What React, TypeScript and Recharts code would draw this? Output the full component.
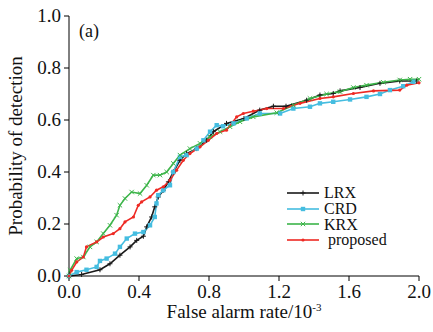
import { LineChart, Line, XAxis, YAxis } from 'recharts';

// False alarm rate (x1e-3) and probability of detection for each detector
const lrxFar = [0, 0.072, 0.177, 0.234, 0.291, 0.349, 0.387, 0.425, 0.444, 0.472, 0.49, 0.51, 0.539, 0.568, 0.596, 0.634, 0.672, 0.73, 0.787, 0.825, 0.9, 1.0, 1.09, 1.168, 1.24, 1.358, 1.434, 1.51, 1.549, 1.663, 1.777, 1.89, 1.987];
const lrxPd = [0, 0.006, 0.024, 0.047, 0.08, 0.112, 0.137, 0.153, 0.189, 0.227, 0.266, 0.304, 0.33, 0.362, 0.4, 0.445, 0.471, 0.49, 0.522, 0.555, 0.587, 0.606, 0.638, 0.653, 0.653, 0.676, 0.696, 0.702, 0.712, 0.725, 0.741, 0.75, 0.75];

const crdFar = [0, 0.044, 0.1, 0.158, 0.177, 0.215, 0.263, 0.291, 0.33, 0.377, 0.425, 0.463, 0.49, 0.5, 0.51, 0.539, 0.577, 0.596, 0.634, 0.672, 0.73, 0.768, 0.806, 0.844, 0.88, 0.94, 1.015, 1.09, 1.206, 1.282, 1.377, 1.434, 1.51, 1.606, 1.7, 1.777, 1.834, 1.91, 1.968];
const crdPd = [0, 0.015, 0.024, 0.035, 0.058, 0.067, 0.086, 0.112, 0.144, 0.163, 0.169, 0.195, 0.227, 0.279, 0.311, 0.33, 0.349, 0.4, 0.458, 0.465, 0.49, 0.522, 0.555, 0.58, 0.576, 0.587, 0.606, 0.625, 0.625, 0.644, 0.651, 0.664, 0.67, 0.679, 0.689, 0.7, 0.715, 0.73, 0.747];

const krxFar = [0, 0.006, 0.044, 0.082, 0.12, 0.158, 0.196, 0.234, 0.272, 0.291, 0.32, 0.358, 0.406, 0.444, 0.482, 0.52, 0.558, 0.596, 0.634, 0.691, 0.749, 0.806, 0.863, 0.92, 0.977, 1.053, 1.187, 1.282, 1.377, 1.472, 1.549, 1.625, 1.7, 1.796, 1.89, 1.949, 2.0];
const krxPd = [0, 0.022, 0.067, 0.073, 0.112, 0.131, 0.163, 0.195, 0.234, 0.272, 0.298, 0.323, 0.317, 0.349, 0.388, 0.388, 0.4, 0.433, 0.465, 0.49, 0.51, 0.535, 0.555, 0.574, 0.593, 0.612, 0.628, 0.657, 0.683, 0.7, 0.709, 0.725, 0.734, 0.745, 0.754, 0.757, 0.757];

const propFar = [0, 0.015, 0.044, 0.082, 0.1, 0.158, 0.196, 0.253, 0.291, 0.32, 0.368, 0.396, 0.415, 0.463, 0.5, 0.539, 0.577, 0.615, 0.653, 0.691, 0.749, 0.796, 0.844, 0.9, 0.958, 0.996, 1.053, 1.13, 1.225, 1.32, 1.434, 1.51, 1.625, 1.74, 1.89, 1.93, 2.0];
const propPd = [0, 0.022, 0.054, 0.073, 0.112, 0.131, 0.15, 0.163, 0.182, 0.208, 0.227, 0.272, 0.285, 0.304, 0.33, 0.343, 0.368, 0.407, 0.445, 0.471, 0.497, 0.522, 0.548, 0.561, 0.612, 0.625, 0.634, 0.644, 0.644, 0.664, 0.683, 0.689, 0.702, 0.712, 0.715, 0.734, 0.743];

const xTicks = [0, 0.4, 0.8, 1.2, 1.6, 2.0];
const yTicks = [0, 0.2, 0.4, 0.6, 0.8, 1.0];

const FONT = '"Liberation Serif", "Times New Roman", serif';

const toPoints = (xs: number[], ys: number[]) => xs.map((x, i) => ({ x, y: ys[i] }));

const series = [
  { name: 'LRX', color: '#1a1a1a', marker: 'plus', data: toPoints(lrxFar, lrxPd) },
  { name: 'CRD', color: '#45bde0', marker: 'square', data: toPoints(crdFar, crdPd) },
  { name: 'KRX', color: '#3db54a', marker: 'cross', data: toPoints(krxFar, krxPd) },
  { name: ' proposed', color: '#ee2a24', marker: 'dot', data: toPoints(propFar, propPd) },
];

function Marker({ kind, cx, cy, color }: { kind: string; cx: number; cy: number; color: string }) {
  if (kind === 'plus') {
    return (
      <path d={`M${cx - 2.5},${cy}H${cx + 2.5}M${cx},${cy - 2.5}V${cy + 2.5}`} stroke={color} strokeWidth={1} />
    );
  }
  if (kind === 'square') {
    return <rect x={cx - 2.2} y={cy - 2.2} width={4.4} height={4.4} fill={color} />;
  }
  if (kind === 'cross') {
    return (
      <path d={`M${cx - 2.2},${cy - 2.2}L${cx + 2.2},${cy + 2.2}M${cx - 2.2},${cy + 2.2}L${cx + 2.2},${cy - 2.2}`} stroke={color} strokeWidth={1} fill="none" />
    );
  }
  return <circle cx={cx} cy={cy} r={1.6} fill={color} />;
}

const XTick = ({ x, y, payload }: any) => (
  <text x={x} y={y + 15} textAnchor="middle" fontSize={19} fontFamily={FONT} fill="#111">
    {payload.value.toFixed(1)}
  </text>
);

const YTick = ({ x, y, payload }: any) => (
  <text x={x - 1} y={y + 6} textAnchor="end" fontSize={19} fontFamily={FONT} fill="#111">
    {payload.value.toFixed(1)}
  </text>
);

function LegendBox() {
  return (
    <div style={{ fontFamily: FONT, fontSize: 16, color: '#111', lineHeight: '15px' }}>
      {series.map((s) => (
        <div key={s.name} style={{ display: 'flex', alignItems: 'center', height: 15.7 }}>
          <svg width={34} height={10} style={{ marginRight: 3 }}>
            <line x1={0} y1={5} x2={32} y2={5} stroke={s.color} strokeWidth={1.6} />
            <Marker kind={s.marker} cx={16} cy={5} color={s.color} />
          </svg>
          <span style={{ whiteSpace: 'pre' }}>{s.name}</span>
        </div>
      ))}
    </div>
  );
}

export default function App() {
  return (
    <div style={{ position: 'absolute', left: 0, top: 0, width: 433, height: 332, background: '#fff' }}>
      <LineChart width={433} height={332} margin={{ top: 16, right: 14, bottom: 0, left: 0 }}>
        <XAxis
          type="number"
          dataKey="x"
          domain={[0, 2]}
          ticks={xTicks}
          height={56}
          stroke="#000"
          tickSize={5}
          tick={<XTick />}
          allowDuplicatedCategory={false}
          label={{
            content: () => (
              <text x={244} y={318} textAnchor="middle" fontSize={19} fontFamily={FONT} fill="#111">
                False alarm rate/10
                <tspan dy={-7} fontSize={11}>-3</tspan>
              </text>
            ),
          }}
        />
        <YAxis
          type="number"
          domain={[0, 1]}
          ticks={yTicks}
          width={69}
          stroke="#000"
          tickSize={5}
          tick={<YTick />}
          label={{
            content: () => (
              <text
                x={22}
                y={146}
                textAnchor="middle"
                transform="rotate(-90 22 146)"
                fontSize={19}
                fontFamily={FONT}
                fill="#111"
              >
                Probability of detection
              </text>
            ),
          }}
        />
        {series.map((s) => (
          <Line
            key={s.name}
            data={s.data}
            dataKey="y"
            name={s.name}
            type="linear"
            stroke={s.color}
            strokeWidth={1.6}
            isAnimationActive={false}
            dot={(p: any) => <Marker key={`${s.name}-${p.index}`} kind={s.marker} cx={p.cx} cy={p.cy} color={s.color} />}
            activeDot={false}
          />
        ))}
      </LineChart>
      <div style={{ position: 'absolute', left: 287, top: 185 }}>
        <LegendBox />
      </div>
      <div style={{ position: 'absolute', left: 79, top: 21, fontFamily: FONT, fontSize: 18, color: '#111' }}>(a)</div>
    </div>
  );
}
